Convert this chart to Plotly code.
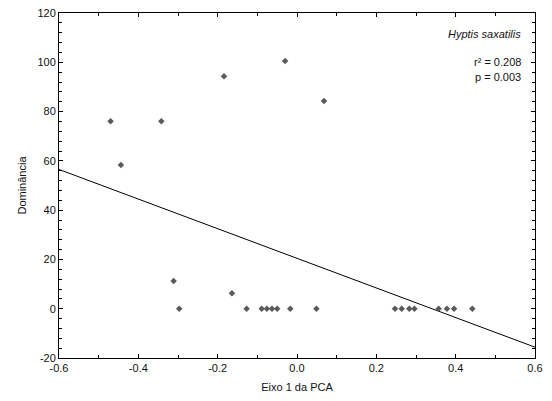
import plotly.graph_objects as go

# PCA axis 1 scores and dominance values
pca_axis1 = [-0.470, -0.444, -0.342, -0.311, -0.297, -0.184, -0.164, -0.127,
             -0.089, -0.076, -0.063, -0.050, -0.030, -0.017, 0.049, 0.068,
             0.247, 0.264, 0.283, 0.296, 0.357, 0.378, 0.396, 0.442]
dominancia = [76.1, 58.3, 76.1, 11.2, 0.0, 94.3, 6.3, 0.0,
              0.0, 0.0, 0.0, 0.0, 100.5, 0.0, 0.0, 84.3,
              0.0, 0.0, 0.0, 0.0, 0.0, 0.0, 0.0, 0.0]

# regression line (intercept, slope)
fit_intercept = 20.45
fit_slope = -60.1
fit_x = [-0.6, 0.6]
fit_y = [fit_intercept + fit_slope * v for v in fit_x]

x_tickvals = [-0.6, -0.4, -0.2, 0.0, 0.2, 0.4, 0.6]
x_ticktext = ["-0.6", "-0.4", "-0.2", "0.0", "0.2", "0.4", "0.6"]
y_tickvals = [-20, 0, 20, 40, 60, 80, 100, 120]
y_ticktext = ["-20", "0", "20", "40", "60", "80", "100", "120"]

species = "Hyptis saxatilis"
stats_text = ["r² = 0.208", "p = 0.003"]

FONT = "Arial, Liberation Sans, sans-serif"

fig = go.Figure()
fig.add_trace(go.Scatter(x=fit_x, y=fit_y, mode="lines",
                         line=dict(color="black", width=1), hoverinfo="skip"))
fig.add_trace(go.Scatter(x=pca_axis1, y=dominancia, mode="markers",
                         marker=dict(symbol="diamond", size=5, color="#5a5a5a",
                                     line=dict(width=0))))

axis_common = dict(showgrid=False, zeroline=False, showline=True, linecolor="black",
                   linewidth=1, mirror="ticks", ticks="inside", ticklen=4,
                   tickcolor="black", tickfont=dict(family=FONT, size=11, color="#111111"))

fig.update_xaxes(range=[-0.6, 0.6], tickmode="array", tickvals=x_tickvals,
                 ticktext=x_ticktext,
                 minor=dict(dtick=0.1, tick0=0, ticks="inside", ticklen=3, tickcolor="black"),
                 title=dict(text="Eixo 1 da PCA", font=dict(family=FONT, size=11, color="#111111"),
                            standoff=10),
                 **axis_common)
fig.update_yaxes(range=[-20, 120], tickmode="array", tickvals=y_tickvals,
                 ticktext=y_ticktext,
                 minor=dict(dtick=4, tick0=0, ticks="inside", ticklen=3, tickcolor="black"),
                 title=dict(text="Dominância", font=dict(family=FONT, size=11, color="#111111"),
                            standoff=8),
                 **axis_common)

fig.add_annotation(x=0.975, y=0.940, xref="paper", yref="paper", text="<i>" + species + "</i>",
                   showarrow=False, xanchor="right", yanchor="middle",
                   font=dict(family=FONT, size=11, color="#111111"))
fig.add_annotation(x=0.975, y=0.859, xref="paper", yref="paper", text=stats_text[0],
                   showarrow=False, xanchor="right", yanchor="middle",
                   font=dict(family=FONT, size=11, color="#111111"))
fig.add_annotation(x=0.975, y=0.815, xref="paper", yref="paper", text=stats_text[1],
                   showarrow=False, xanchor="right", yanchor="middle",
                   font=dict(family=FONT, size=11, color="#111111"))

fig.update_layout(width=552, height=401, showlegend=False,
                  margin=dict(l=59, r=17, t=13, b=43, autoexpand=False),
                  plot_bgcolor="white", paper_bgcolor="white",
                  font=dict(family=FONT, size=11))

fig.write_html("out.html", config={"displayModeBar": False})

# remove the default page margin so the figure sits at the window's top-left
with open("out.html", "r", encoding="utf-8") as f:
    html = f.read()
html = html.replace("<body>", '<body style="margin:0;padding:0;overflow:hidden">', 1)
with open("out.html", "w", encoding="utf-8") as f:
    f.write(html)
